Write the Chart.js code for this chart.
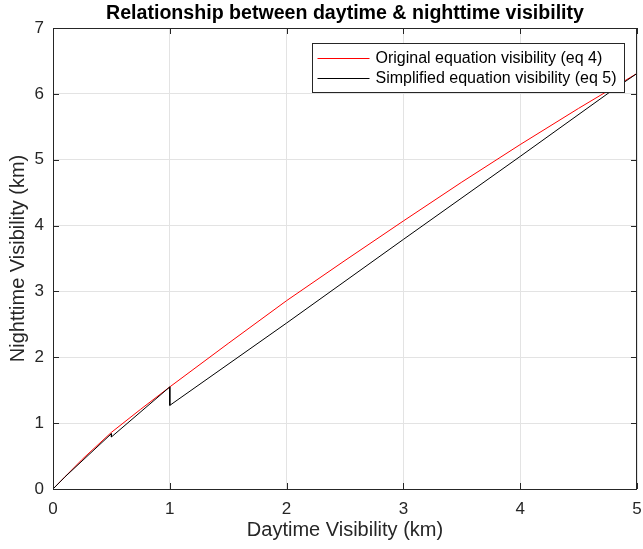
<!DOCTYPE html>
<html>
<head>
<meta charset="utf-8">
<script src="https://cdn.jsdelivr.net/npm/chart.js@4"></script>
<style>
  html, body { margin: 0; padding: 0; background: #fff; }
  #wrap { width: 643px; height: 549px; }
</style>
</head>
<body>
<div id="wrap"><canvas id="visChart" width="643" height="549"></canvas></div>
<script>
// data
const origDay = [0, 0.1, 0.25, 0.5, 0.75, 1, 1.5, 2, 2.5, 3, 3.5, 4, 4.5, 5];
const origNight = [0, 0.18, 0.45, 0.86, 1.21, 1.55, 2.21, 2.86, 3.47, 4.07, 4.66, 5.23, 5.78, 6.31];

const simpDay = [0, 0.1, 0.5, 0.5, 1, 1, 2, 3, 4, 4.77, 5];
const simpNight = [0, 0.18, 0.84, 0.79, 1.55, 1.27, 2.52, 3.79, 5.05, 6.03, 6.31];

const xTicks = [0, 1, 2, 3, 4, 5];
const yTicks = [0, 1, 2, 3, 4, 5, 6, 7];

const labels = ['Original equation visibility (eq 4)', 'Simplified equation visibility (eq 5)'];
const chartTitle = 'Relationship between daytime & nighttime visibility';
const axisColor = '#262626';
const fontFamily = '"Liberation Sans", Arial, Helvetica, sans-serif';

const toPoints = (xs, ys) => xs.map((x, i) => ({ x: x, y: ys[i] }));

// title over the plot, box round the axes, inward ticks, legend inside the plot
const matlabAxes = {
    id: 'matlabAxes',
    afterDraw(chart) {
        const ctx = chart.ctx;
        const a = chart.chartArea;
        const xs = chart.scales.x, ys = chart.scales.y;
        ctx.save();

        ctx.fillStyle = '#000';
        ctx.font = 'bold 19.6px ' + fontFamily;
        ctx.textAlign = 'center';
        ctx.textBaseline = 'middle';
        ctx.fillText(chartTitle, (a.left + a.right) / 2, 14);
        ctx.textAlign = 'left';

        ctx.strokeStyle = axisColor;
        ctx.lineWidth = 1;
        ctx.beginPath();
        xTicks.forEach(v => {
            const px = Math.round(xs.getPixelForValue(v)) + 0.5;
            ctx.moveTo(px, a.bottom); ctx.lineTo(px, a.bottom - 6);
            ctx.moveTo(px, a.top); ctx.lineTo(px, a.top + 6);
        });
        yTicks.forEach(v => {
            const py = Math.round(ys.getPixelForValue(v)) + 0.5;
            ctx.moveTo(a.left, py); ctx.lineTo(a.left + 6, py);
            ctx.moveTo(a.right, py); ctx.lineTo(a.right - 6, py);
        });
        ctx.stroke();
        ctx.strokeRect(Math.round(a.left) + 0.5, Math.round(a.top) + 0.5,
            Math.round(a.right - a.left) - 1, Math.round(a.bottom - a.top));

        // legend
        const w = 312, h = 49;
        const lx = Math.round(a.right - 13 - w) + 0.5, ly = Math.round(a.top + 15) + 0.5;
        ctx.fillStyle = '#fff';
        ctx.fillRect(lx, ly, w, h);
        ctx.strokeStyle = axisColor;
        ctx.strokeRect(lx, ly, w, h);
        ctx.font = '16px ' + fontFamily;
        ctx.textBaseline = 'middle';
        chart.data.datasets.forEach((ds, i) => {
            const ry = ly + 15 + i * 20;
            ctx.strokeStyle = ds.borderColor;
            ctx.beginPath();
            ctx.moveTo(lx + 5, ry); ctx.lineTo(lx + 57, ry);
            ctx.stroke();
            ctx.fillStyle = '#000';
            ctx.fillText(ds.label, lx + 63, ry);
        });
        ctx.restore();
    }
};

window.onload = function () {
    const ctx = document.getElementById('visChart').getContext('2d');
    new Chart(ctx, {
        type: 'scatter',
        data: {
            datasets: [{
                label: labels[0],
                data: toPoints(origDay, origNight),
                borderColor: 'rgb(255, 0, 0)',
                borderWidth: 1,
                showLine: true,
                pointRadius: 0,
                tension: 0,
                order: 1
            }, {
                label: labels[1],
                data: toPoints(simpDay, simpNight),
                borderColor: 'rgb(0, 0, 0)',
                borderWidth: 1,
                showLine: true,
                pointRadius: 0,
                tension: 0,
                order: 0
            }]
        },
        options: {
            responsive: false,
            animation: false,
            layout: { padding: { left: 0, right: 6, top: 28, bottom: 0 } },
            plugins: {
                legend: { display: false },
                tooltip: { enabled: false },
                title: { display: false }
            },
            scales: {
                x: {
                    type: 'linear',
                    min: 0, max: 5,
                    afterBuildTicks: s => { s.ticks = xTicks.map(v => ({ value: v })); },
                    afterFit: s => { s.height = 60; s.paddingLeft = 0; s.paddingRight = 0; },
                    grid: { color: '#e3e3e3', drawTicks: false },
                    border: { display: false },
                    ticks: { color: axisColor, padding: 10, font: { family: fontFamily, size: 17 } },
                    title: {
                        display: true,
                        text: 'Daytime Visibility (km)',
                        color: axisColor,
                        padding: { top: 2, bottom: 7 },
                        font: { family: fontFamily, size: 20 }
                    }
                },
                y: {
                    type: 'linear',
                    min: 0, max: 7,
                    afterBuildTicks: s => { s.ticks = yTicks.map(v => ({ value: v })); },
                    afterFit: s => { s.width = 53; },
                    grid: { color: '#e3e3e3', drawTicks: false },
                    border: { display: false },
                    ticks: { color: axisColor, padding: 9, font: { family: fontFamily, size: 17 } },
                    title: {
                        display: true,
                        text: 'Nighttime Visibility (km)',
                        color: axisColor,
                        padding: { top: 6, bottom: 4 },
                        font: { family: fontFamily, size: 20 }
                    }
                }
            }
        },
        plugins: [matlabAxes]
    });
};
</script>
</body>
</html>
